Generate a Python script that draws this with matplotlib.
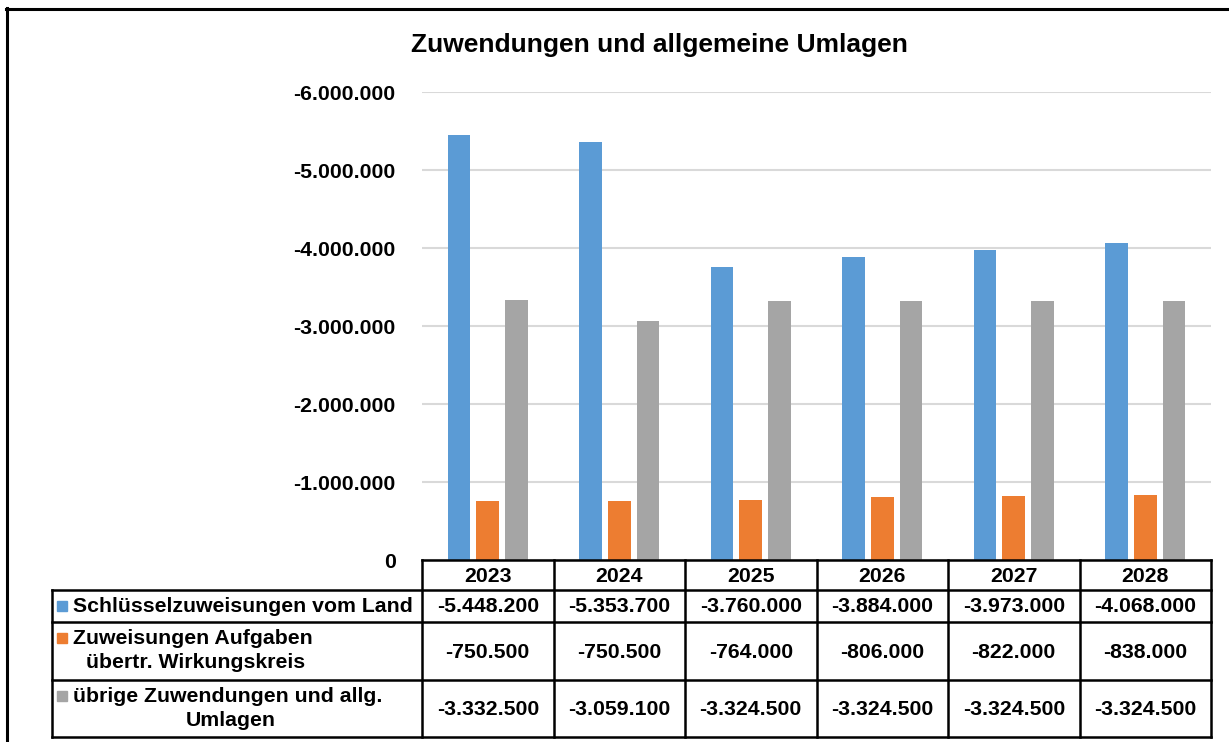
import matplotlib

matplotlib.use("Agg")
import matplotlib.pyplot as plt
import numpy as np
from matplotlib.patches import Rectangle
from matplotlib.ticker import FuncFormatter

plt.rcParams["font.family"] = ["Liberation Sans", "DejaVu Sans"]
plt.rcParams["font.weight"] = "bold"

years = ["2023", "2024", "2025", "2026", "2027", "2028"]
series_names = [
    "Schlüsselzuweisungen vom Land",
    "Zuweisungen Aufgaben\nübertr. Wirkungskreis",
    "übrige Zuwendungen und allg.\nUmlagen",
]
schluessel = [-5448200, -5353700, -3760000, -3884000, -3973000, -4068000]
aufgaben = [-750500, -750500, -764000, -806000, -822000, -838000]
uebrige = [-3332500, -3059100, -3324500, -3324500, -3324500, -3324500]
colors = ["#5B9BD5", "#ED7D31", "#A5A5A5"]
title = "Zuwendungen und allgemeine Umlagen"

FS = 15.3


def de_fmt(v, pos=None):
    return f"{v:,.0f}".replace(",", ".")


W, H = 1229, 742
fig = plt.figure(figsize=(W / 100, H / 100), dpi=100)

# plot area in pixel coords
left, right, top, bottom = 422, 1211, 92, 560
ax = fig.add_axes([left / W, (H - bottom) / H, (right - left) / W, (bottom - top) / H])

x = np.arange(len(years))
values = [schluessel, aufgaben, uebrige]
offsets = [-0.22, 0.0, 0.22]
for vals, off, col in zip(values, offsets, colors):
    ax.bar(x + off, vals, width=0.172, color=col, zorder=3)

ax.set_xlim(-0.5, len(years) - 0.5)
ax.set_ylim(0, -6000000)
ax.set_yticks(np.arange(0, -6000001, -1000000))
ax.yaxis.set_major_formatter(FuncFormatter(de_fmt))
ax.tick_params(axis="y", length=0, pad=19, labelsize=FS)
for lab in ax.get_yticklabels():
    lab.set_fontweight("bold")
ax.set_xticks([])
ax.grid(axis="y", color="#D9D9D9", linewidth=1.5, zorder=0)
for s in ax.spines.values():
    s.set_visible(False)

# overlay in pixel coordinates for frame, title and data table
ov = fig.add_axes([0, 0, 1, 1], facecolor="none")
ov.set_xlim(0, W)
ov.set_ylim(H, 0)
ov.axis("off")

ov.plot([6.5, 6.5], [8, H], color="black", lw=2.2)
ov.plot([6, W], [8.5, 8.5], color="black", lw=2.2)

ov.text(659, 45, title, ha="center", va="center", fontsize=19, fontweight="bold")

# table geometry
col_edges = np.linspace(422, 1211, len(years) + 1)
row_edges = [590, 622, 680, 737]
lw = 1.8
ov.plot([422, 1211], [560, 560], color="black", lw=lw)
for y in row_edges:
    ov.plot([52, 1211], [y, y], color="black", lw=lw)
for xe in col_edges:
    ov.plot([xe, xe], [560, 737], color="black", lw=lw)
ov.plot([52, 52], [590, 737], color="black", lw=lw)

col_centers = (col_edges[:-1] + col_edges[1:]) / 2
for cx, yr in zip(col_centers, years):
    ov.text(cx, 576, yr, ha="center", va="center", fontsize=FS, fontweight="bold")

second_line_x = [None, 86, 186]
for i, (name, vals, col) in enumerate(zip(series_names, values, colors)):
    y0, y1 = row_edges[i], row_edges[i + 1]
    cy = (y0 + y1) / 2
    lines = name.split("\n")
    if len(lines) == 1:
        ly = [cy]
    else:
        ly = [y0 + 16, y0 + 40]
    ov.add_patch(Rectangle((57, ly[0] - 5), 10, 10, color=col))
    ov.text(73, ly[0], lines[0], ha="left", va="center", fontsize=FS, fontweight="bold")
    if len(lines) > 1:
        ov.text(second_line_x[i], ly[1], lines[1], ha="left", va="center",
                fontsize=FS, fontweight="bold")
    for cx, v in zip(col_centers, vals):
        ov.text(cx, cy + 1, de_fmt(v), ha="center", va="center", fontsize=FS,
                fontweight="bold")

fig.savefig("out.png", dpi=100)
